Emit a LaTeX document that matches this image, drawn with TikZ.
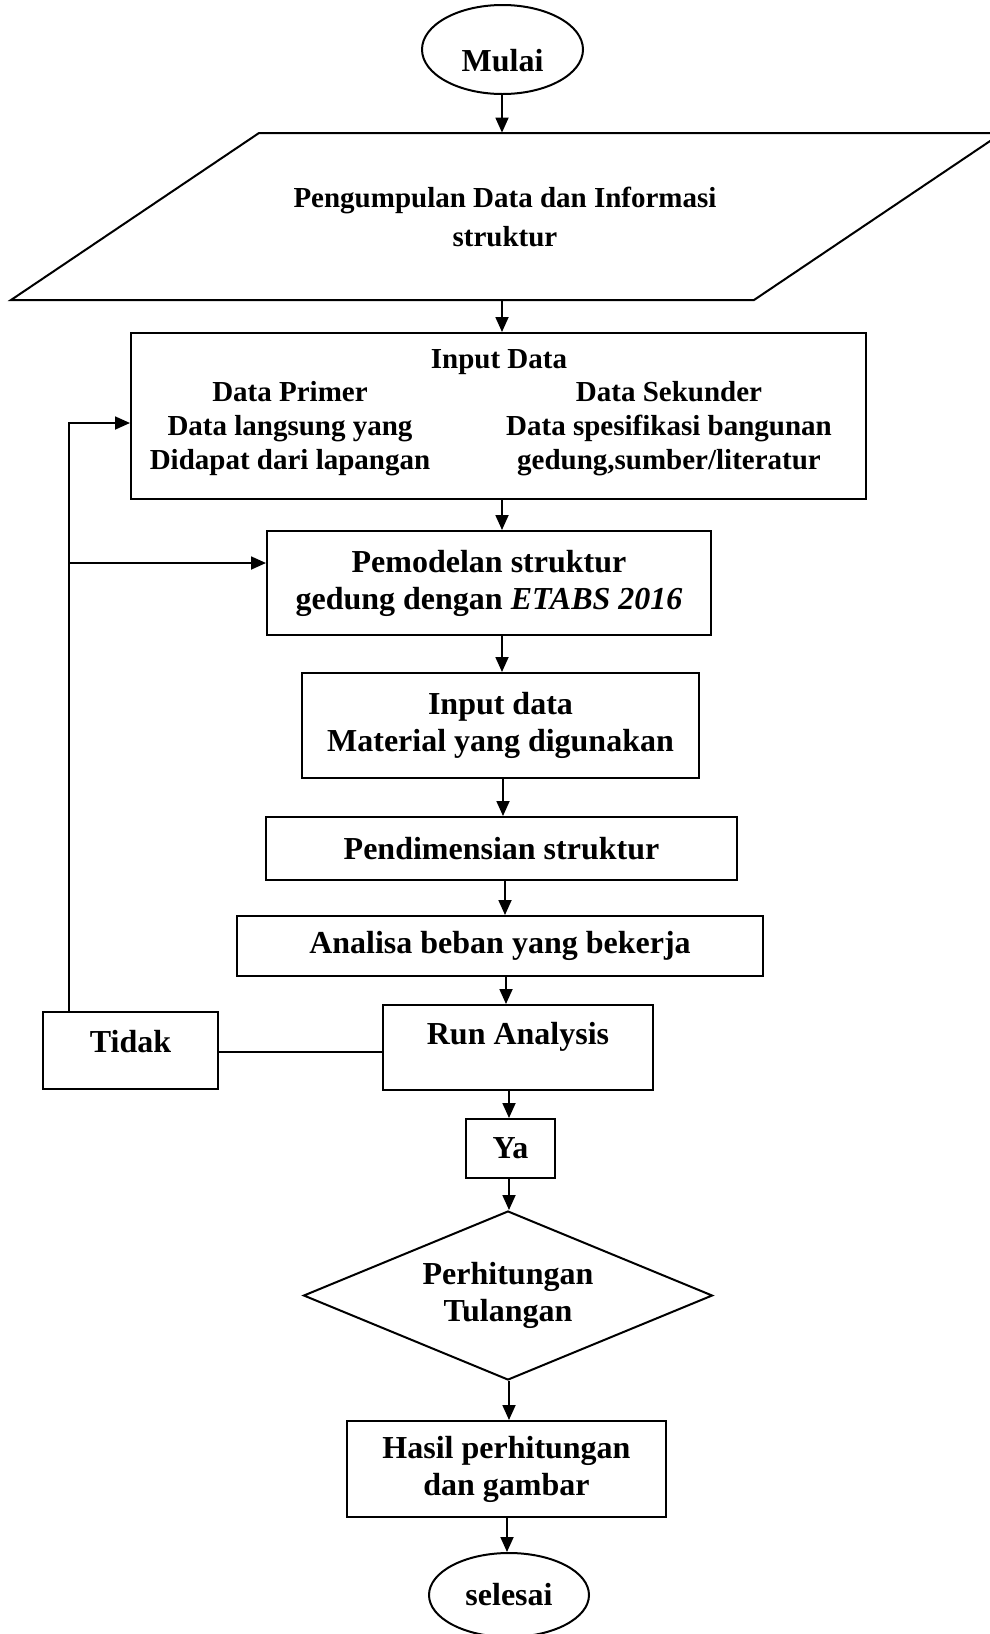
\documentclass[tikz,border=0pt]{standalone}
\usepackage{fontspec}
\setmainfont{Liberation Serif}
\usetikzlibrary{arrows.meta,shapes.geometric}

\newcommand\flowbigtext{\fontsize{16pt}{18.5pt}\selectfont\bfseries}
\newcommand\flowsmalltext{\fontsize{14.5pt}{17pt}\selectfont\bfseries}
\newcommand\flowiotext{\fontsize{14.5pt}{19.5pt}\selectfont\bfseries}
\newcommand\liftby[2]{\raisebox{#1}[\height][\depth]{#2}}
\newcommand\flowarrow[3]{
  \draw[arr] (#1.south -| #3,0) -- (#2.north -| #3,0) ;
}

\tikzset{
  box/.style={draw, line width=1pt, rectangle, inner sep=0pt, align=center, font=\flowbigtext},
  term/.style={draw, line width=1pt, ellipse, inner sep=0pt, font=\flowbigtext},
  decide/.style={draw, line width=1pt, diamond, aspect=2.4, inner sep=0pt, align=center, font=\flowbigtext},
  txt/.style={inner sep=0pt, align=center, font=\flowsmalltext},
  arr/.style={-{Triangle[length=7.5pt,width=6.5pt]}, line width=0.9pt},
  link/.style={line width=0.9pt},
}

\begin{document}
\begin{tikzpicture}[x=0.5pt, y=-0.5pt]
    \useasboundingbox[fill=white] (0,0) rectangle (990,1634) ;
    \node[term, minimum width=80.5pt, minimum height=44.5pt] (mulai) at (502.5,49.5) {\liftby{-5.5pt}{Mulai}} ;
    % input parallelogram
    \node[txt, font=\flowiotext, minimum height=83.5pt] (kumpul) at (505,216.5) {Pengumpulan Data dan Informasi\\struktur} ;
    \draw[line width=1pt] (259,133) -- (1002,133) -- (754,300) -- (11,300) -- cycle ;
    \node[box, minimum width=367.5pt, minimum height=83pt] (indata) at (498.5,416) {} ;
    \node[txt] (indatajudul) at (499,362) {Input Data} ;
    \node[txt] (primer) at (290,429) {Data Primer\\Data langsung yang\\Didapat dari lapangan} ;
    \node[txt] (sekunder) at (669,429) {Data Sekunder\\Data spesifikasi bangunan\\gedung,sumber/literatur} ;
    \node[box, minimum width=222pt, minimum height=52pt] (pemodelan) at (489,583) {Pemodelan struktur\\gedung dengan \textit{ETABS 2016}} ;
    \node[box, minimum width=198.5pt, minimum height=52.5pt] (material) at (500.5,725.5) {Input data\\Material yang digunakan} ;
    \node[box, minimum width=235.5pt, minimum height=31.5pt] (dimensi) at (501.5,848.5) {Pendimensian struktur} ;
    \node[box, minimum width=263pt, minimum height=30pt] (beban) at (500,946) {Analisa beban yang bekerja} ;
    \node[box, minimum width=135pt, minimum height=42.5pt] (run) at (518,1047.5) {\liftby{5.25pt}{Run Analysis}} ;
    \node[box, minimum width=87.5pt, minimum height=38.5pt] (tidak) at (130.5,1050.5) {\liftby{4.25pt}{Tidak}} ;
    \node[box, minimum width=44.5pt, minimum height=29.5pt] (ya) at (510.5,1148.5) {Ya} ;
    \node[decide, minimum width=204.5pt, minimum height=84.5pt] (tulangan) at (508,1295.5) {Perhitungan\\Tulangan} ;
    \node[box, minimum width=159.5pt, minimum height=48pt] (hasil) at (506.5,1469) {Hasil perhitungan\\dan gambar} ;
    \node[term, minimum width=80pt, minimum height=42pt] (selesai) at (509,1595) {selesai} ;
    % main flow
    \flowarrow{mulai}{kumpul}{502}
    \flowarrow{kumpul}{indata}{502}
    \flowarrow{indata}{pemodelan}{502}
    \flowarrow{pemodelan}{material}{502}
    \flowarrow{material}{dimensi}{503}
    \flowarrow{dimensi}{beban}{505}
    \flowarrow{beban}{run}{506}
    \flowarrow{run}{ya}{509}
    \flowarrow{ya}{tulangan}{509}
    \flowarrow{tulangan}{hasil}{509}
    \flowarrow{hasil}{selesai}{507}
    % loop back
    \draw[link] (tidak.east |- 0,1052) -- (run.west |- 0,1052) ;
    \draw[arr] (tidak.north -| 69,0) |- (indata.west |- 0,423) ;
    \coordinate (cabang) at (69,563) ;
    \draw[arr] (cabang) -- (pemodelan.west |- cabang) ;
\end{tikzpicture}
\end{document}
